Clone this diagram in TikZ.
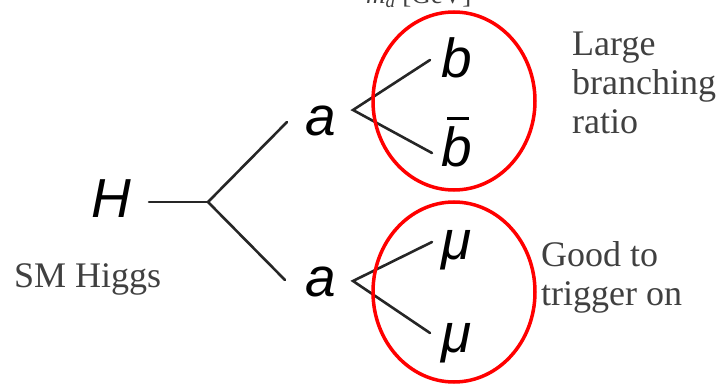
\documentclass[tikz,border=0pt]{standalone}
\usepackage{fontspec}
\setmainfont{Liberation Serif}
\newfontfamily\diagfont{Liberation Sans}
\usetikzlibrary{calc}
\definecolor{notegray}{HTML}{404040}
\tikzset{
  particle/.style={inner sep=0pt, anchor=base west, font=\diagfont\itshape\fontsize{55}{60}\selectfont},
  note/.style={inner sep=0pt, anchor=base west, align=left, text=notegray,
    font=\fontsize{36}{39}\selectfont},
  leg/.style={line width=2.6pt, draw=black!85, line cap=round},
  ring/.style={line width=3.5pt, draw=red}
}
\begin{document}
\begin{tikzpicture}[x=1pt,y=-1pt]
\useasboundingbox (0,0) rectangle (726,385);
\clip (0,0) rectangle (726,385);

% axis caption at the top edge
\node[inner sep=0pt, anchor=base west, text=notegray, font=\fontsize{27}{30}\selectfont]
  (axis) at (366,4) {\textit{m}\textsubscript{\textit{a}} [GeV]};

% particles
\node[particle] (H)  at (91,217) {H};
\node[particle] (a1) at (305,136) {a};
\node[particle] (a2) at (305,296) {a};
\node[particle] (b)  at (441,78) {b};
\node[particle] (bb) at (441,167) {\rlap{\kern6pt\raisebox{47pt}{\rule{22pt}{3pt}}}b};
\node[particle] (mu1) at (441,259) {μ};
\node[particle] (mu2) at (441,352) {μ};

% vertices and leg ends
\coordinate (h0) at (149,202);
\coordinate (v0) at (208,202);
\coordinate (u1) at (287,122);
\coordinate (l1) at (285,280);
\coordinate (v1) at (353,110);
\coordinate (b1) at (430,60);
\coordinate (b2) at (432,153);
\coordinate (v2) at (353,281);
\coordinate (m1) at (432,242);
\coordinate (m2) at (430,333);

\draw[leg] (h0) -- (v0);
\draw[leg] (v0) -- (u1);
\draw[leg] (v0) -- (l1);
\draw[leg] (b1) -- (v1) -- (b2);
\draw[leg] (m1) -- (v2) -- (m2);

% highlighted final states
\draw[ring] (454,101) ellipse [x radius=81, y radius=89];
\draw[ring] (454,292) ellipse [x radius=81, y radius=90];

% remarks (a multi-line node sits on its last baseline)
\node[note] (sm)   at (14,287) {SM Higgs};
\node[note] (lbr)  at (572,134) {Large\\branching\\ratio};
\node[note] (trig) at (541,305) {Good to\\trigger on};
\end{tikzpicture}
\end{document}
